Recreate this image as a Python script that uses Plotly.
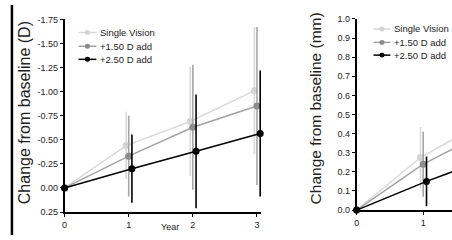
import plotly.graph_objects as go

W, H = 452, 240

# ---------------- data ----------------
years = [0, 1, 2, 3]
series_names = ["Single Vision", "+1.50 D add", "+2.50 D add"]

# Left panel: refraction change (D)
sv_D = [0.0, -0.44, -0.69, -1.01]
sv_D_err = [0.0, 0.35, 0.57, 0.66]
a150_D = [0.0, -0.33, -0.63, -0.85]
a150_D_err = [0.0, 0.42, 0.65, 0.82]
a250_D = [0.0, -0.20, -0.38, -0.565]
a250_D_err = [0.0, 0.355, 0.59, 0.655]

# Right panel: axial length change (mm)
sv_mm = [0.0, 0.275, 0.47, 0.62]
sv_mm_err = [0.0, 0.16, 0.20, 0.24]
a150_mm = [0.0, 0.24, 0.42, 0.55]
a150_mm_err = [0.0, 0.17, 0.20, 0.23]
a250_mm = [0.0, 0.15, 0.28, 0.38]
a250_mm_err = [0.0, 0.13, 0.17, 0.20]

left_yticks = [-1.75, -1.5, -1.25, -1.0, -0.75, -0.5, -0.25, 0.0, 0.25]
right_yticks = [0.0, 0.1, 0.2, 0.3, 0.4, 0.5, 0.6, 0.7, 0.8, 0.9, 1.0]

# ---------------- style ----------------
FONT = "Arial, Liberation Sans, sans-serif"
line_colors = ["#d9d9d9", "#a3a3a3", "#000000"]
marker_colors = ["#d4d4d4", "#8c8c8c", "#000000"]
err_colors = ["#d9d9d9", "#a6a6a6", "#000000"]
dodge = [-0.04, 0.0, 0.05]


def px(x):
    return x / W


def py(y):
    return 1 - y / H


fig = go.Figure()

panels = [
    ("x", "y", [sv_D, a150_D, a250_D], [sv_D_err, a150_D_err, a250_D_err]),
    ("x2", "y2", [sv_mm, a150_mm, a250_mm], [sv_mm_err, a150_mm_err, a250_mm_err]),
]

for xa, ya, vals, errs in panels:
    for i in range(3):
        xs = [yr + (dodge[i] if yr > 0 else 0) for yr in years]
        fig.add_trace(go.Scatter(
            x=xs, y=vals[i], xaxis=xa, yaxis=ya,
            mode="lines+markers", name=series_names[i], showlegend=False,
            line=dict(color=line_colors[i], width=1.5),
            marker=dict(color=marker_colors[i], size=7),
            error_y=dict(type="data", array=errs[i], visible=True,
                         color=err_colors[i], thickness=1.6, width=0),
            cliponaxis=False,
        ))

axis_common = dict(showgrid=False, zeroline=False, showline=True, linecolor="black",
                   linewidth=1.5, ticks="outside", tickcolor="black", ticklen=3,
                   tickwidth=1, tickfont=dict(family=FONT, size=9, color="#222"))

fig.update_layout(
    width=W, height=H,
    margin=dict(l=0, r=0, t=0, b=0),
    paper_bgcolor="white", plot_bgcolor="white",
    showlegend=False,
    font=dict(family=FONT, color="#222"),
    xaxis=dict(domain=[px(62), px(260)], range=[0, 3.067], tickvals=years,
               anchor="y", **axis_common),
    yaxis=dict(domain=[py(216), py(15)], range=[0.25, -1.75], tickvals=left_yticks,
               ticktext=[f"{v:.2f}" for v in left_yticks], anchor="x", **axis_common),
    xaxis2=dict(domain=[px(356), 1.0], range=[0, 96 / 67], tickvals=years,
                anchor="y2", **axis_common),
    yaxis2=dict(domain=[py(214), py(14.5)], range=[0, 1.0], tickvals=right_yticks,
                ticktext=[f"{v:.1f}" for v in right_yticks], anchor="x2", **axis_common),
)

shapes = []
annotations = []

# left border bar
shapes.append(dict(type="line", xref="paper", yref="paper", x0=px(9), x1=px(9),
                   y0=0, y1=1, line=dict(color="black", width=2.5)))

# custom legends
legend_specs = [
    (76, 94, 85, 96, [28.7, 43, 56.7]),
    (373, 390, 381.5, 392, [25, 39, 52.3]),
]
for lx0, lx1, mx, tx, rows in legend_specs:
    for i, ry in enumerate(rows):
        shapes.append(dict(type="line", xref="paper", yref="paper",
                           x0=px(lx0), x1=px(lx1), y0=py(ry), y1=py(ry),
                           line=dict(color=line_colors[i], width=1.5)))
        r = 2.6
        shapes.append(dict(type="circle", xref="paper", yref="paper",
                           x0=px(mx - r), x1=px(mx + r), y0=py(ry + r), y1=py(ry - r),
                           fillcolor=marker_colors[i], line=dict(width=0)))
        annotations.append(dict(text=series_names[i], xref="paper", yref="paper",
                                x=px(tx), y=py(ry), xanchor="left", yanchor="middle",
                                showarrow=False,
                                font=dict(family=FONT, size=9.5, color="#222")))

# axis titles
annotations.append(dict(text="Change from baseline (D)", xref="paper", yref="paper",
                        x=px(21), y=py(112), textangle=-90, showarrow=False,
                        xanchor="center", yanchor="middle",
                        font=dict(family=FONT, size=16, color="#222")))
annotations.append(dict(text="Change from baseline (mm)", xref="paper", yref="paper",
                        x=px(315), y=py(108), textangle=-90, showarrow=False,
                        xanchor="center", yanchor="middle",
                        font=dict(family=FONT, size=15.5, color="#222")))
annotations.append(dict(text="Year", xref="paper", yref="paper",
                        x=px(168), y=py(232), showarrow=False,
                        xanchor="center", yanchor="middle",
                        font=dict(family=FONT, size=9, color="#222")))

fig.update_layout(shapes=shapes, annotations=annotations)

fig.write_html(
    "out.html",
    config={"displayModeBar": False},
    post_script="document.body.style.margin='0px';document.body.style.overflow='hidden';",
)
